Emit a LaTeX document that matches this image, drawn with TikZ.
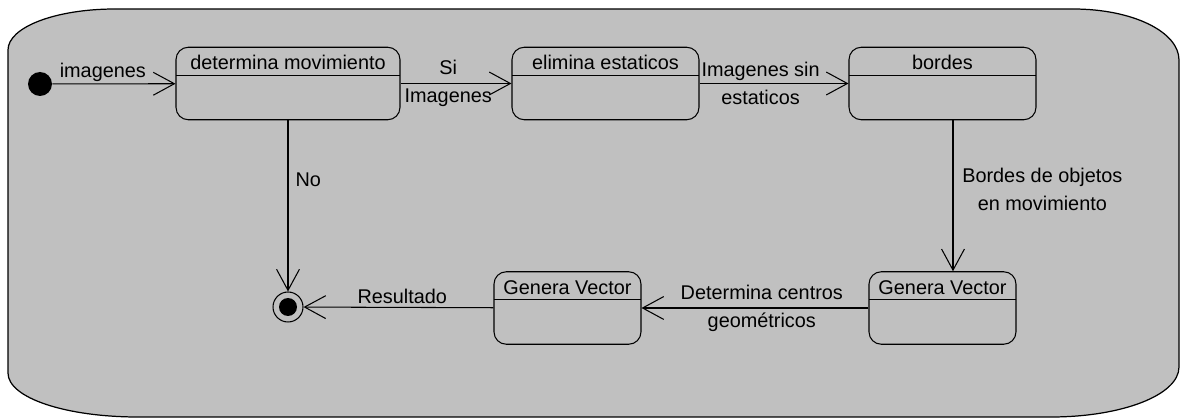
\documentclass[tikz,border=0pt]{standalone}
\usepackage{fontspec}
\setmainfont{Liberation Sans}
\usetikzlibrary{arrows.meta}
\definecolor{fondogris}{RGB}{192,192,192}
\tikzset{
  estado/.style={draw, rounded corners=7pt, minimum height=1.45cm, line width=0.6pt,
    path picture={\draw[line width=0.6pt] ([yshift=-0.56cm]path picture bounding box.north west) -- ([yshift=-0.56cm]path picture bounding box.north east);}},
  titulo/.style={anchor=center, yshift=-0.32cm, inner sep=0pt},
  flecha/.style={-{Straight Barb[length=12pt,width=13pt]}, line width=0.6pt},
  etiqueta/.style={inner sep=1pt, align=center}
}

\begin{document}
\begin{tikzpicture}[x=0.02cm, y=-0.02cm, font=\fontsize{11.3}{16}\selectfont]
  \useasboundingbox (0,0) rectangle (1184,418);
  \filldraw[fill=fondogris, line width=0.7pt] (8,50) .. controls (8,27) and (56,9) .. (115,9) -- (1073,9) .. controls (1133,9) and (1179,32) .. (1179,60) -- (1179,367) .. controls (1179,395) and (1122,417) .. (1051,417) -- (138,417) .. controls (66,417) and (8,398) .. (8,373) -- cycle;

  \node (ini) at (40,84) [circle, fill, minimum size=0.48cm, inner sep=0pt] {};
  \node (mov) at (288,83.5) [estado, minimum width=4.48cm, label={[titulo]north:determina movimiento}] {};
  \node (eli) at (605.5,83.5) [estado, minimum width=3.74cm, label={[titulo]north:elimina estaticos}] {};
  \node (bor) at (942.5,83.5) [estado, minimum width=3.74cm, label={[titulo]north:bordes}] {};
  \node (gen2) at (942.5,308) [estado, minimum width=2.94cm, label={[titulo]north:Genera Vector}] {};
  \node (gen1) at (567.5,308) [estado, minimum width=2.94cm, label={[titulo]north:Genera Vector}] {};
  \node (fin) at (288,307) [circle, draw, line width=0.6pt, minimum size=0.6cm, inner sep=0pt,
    path picture={\fill (path picture bounding box.center) circle (0.18cm);}] {};

  \draw[flecha] (ini) -- node[etiqueta, above, pos=0.41] {imagenes} (mov);
  \draw[flecha] (mov) -- node[etiqueta, pos=0.43] {Si\\Imagenes} (eli);
  \draw[flecha] (eli) -- node[etiqueta, pos=0.41] {Imagenes sin\\estaticos} (bor);
  \draw[flecha] ([xshift=0.21cm]bor.south) -- node[etiqueta, right=4pt, pos=0.46] {Bordes de objetos\\en movimiento} ([xshift=0.21cm]bor.south |- gen2.north);
  \draw[flecha] (gen2) -- node[etiqueta, pos=0.47] {Determina centros\\geométricos} (gen1);
  \draw[flecha] (gen1) -- node[etiqueta, above=1pt, pos=0.48] {Resultado} (fin);
  \draw[flecha] (mov) -- node[etiqueta, right=3pt, pos=0.35] {No} (fin);
\end{tikzpicture}
\end{document}
